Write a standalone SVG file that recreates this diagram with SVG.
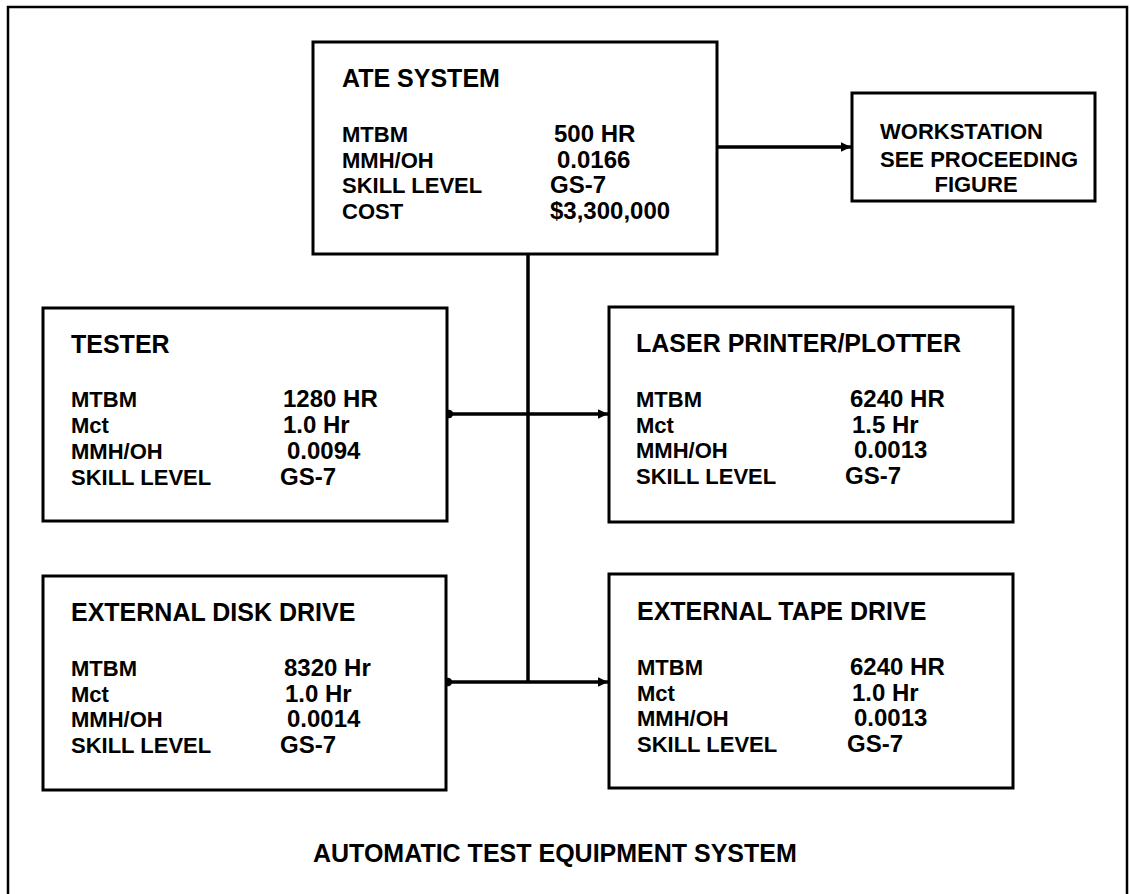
<svg xmlns="http://www.w3.org/2000/svg" width="1130" height="894" viewBox="0 0 1130 894">
<style>
.box{fill:#fff;stroke:#000;stroke-width:3}
.t{font-family:"Liberation Sans",Arial,sans-serif;font-weight:bold;font-size:25px;fill:#000}
.d{font-family:"Liberation Sans",Arial,sans-serif;font-weight:bold;font-size:22px;fill:#000}
.v{font-family:"Liberation Sans",Arial,sans-serif;font-weight:bold;font-size:24px;fill:#000}
.cap{font-family:"Liberation Sans",Arial,sans-serif;font-weight:bold;font-size:25px;fill:#000}
.c{fill:none;stroke:#000;stroke-width:3.5}
</style>
<defs>
<marker id="dot" markerWidth="4" markerHeight="4" refX="2" refY="2" markerUnits="strokeWidth"><circle cx="2" cy="2" r="1.2" fill="#000"/></marker>
<marker id="arr" markerWidth="4" markerHeight="4" refX="3" refY="2" orient="auto" markerUnits="strokeWidth"><path d="M0,0.6 L3,2 L0,3.4 Z" fill="#000"/></marker>
</defs>
<rect x="0" y="0" width="1130" height="894" fill="#fff"/>
<path d="M8,900 L8,7 L1127,7 L1127,900" fill="none" stroke="#000" stroke-width="2.5"/>

<g id="connectors">
<line class="c" x1="528" y1="254" x2="528" y2="682"/>
<line class="c" x1="717" y1="147" x2="851" y2="147" marker-end="url(#arr)"/>
<line class="c" x1="449" y1="414" x2="608" y2="414" marker-start="url(#dot)" marker-end="url(#arr)"/>
<line class="c" x1="448" y1="682" x2="608" y2="682" marker-start="url(#dot)" marker-end="url(#arr)"/>
</g>

<g id="ate">
<rect class="box" x="313" y="42" width="404" height="212"/>
<text class="t" x="342" y="87">ATE SYSTEM</text>
<text class="d" x="342" y="142">MTBM</text>
<text class="d" x="342" y="168">MMH/OH</text>
<text class="d" x="342" y="193">SKILL LEVEL</text>
<text class="d" x="342" y="219">COST</text>
<text class="v" x="554" y="142">500 HR</text>
<text class="v" x="557" y="168">0.0166</text>
<text class="v" x="550" y="193">GS-7</text>
<text class="v" x="550" y="219">$3,300,000</text>
</g>

<g id="workstation">
<rect class="box" x="852" y="93" width="243" height="108"/>
<text class="d" x="880" y="139">WORKSTATION</text>
<text class="d" x="880" y="167">SEE PROCEEDING</text>
<text class="d" x="976" y="192" text-anchor="middle">FIGURE</text>
</g>

<g id="tester">
<rect class="box" x="43" y="308" width="404" height="213"/>
<text class="t" x="71" y="353">TESTER</text>
<text class="d" x="71" y="407">MTBM</text>
<text class="d" x="71" y="433">Mct</text>
<text class="d" x="71" y="459">MMH/OH</text>
<text class="d" x="71" y="485">SKILL LEVEL</text>
<text class="v" x="283" y="407">1280 HR</text>
<text class="v" x="283" y="433">1.0 Hr</text>
<text class="v" x="287" y="459">0.0094</text>
<text class="v" x="280" y="485">GS-7</text>
</g>

<g id="laser">
<rect class="box" x="609" y="307" width="404" height="215"/>
<text class="t" x="636" y="352">LASER PRINTER/PLOTTER</text>
<text class="d" x="636" y="407">MTBM</text>
<text class="d" x="636" y="433">Mct</text>
<text class="d" x="636" y="458">MMH/OH</text>
<text class="d" x="636" y="484">SKILL LEVEL</text>
<text class="v" x="850" y="407">6240 HR</text>
<text class="v" x="852" y="433">1.5 Hr</text>
<text class="v" x="854" y="458">0.0013</text>
<text class="v" x="845" y="484">GS-7</text>
</g>

<g id="disk">
<rect class="box" x="43" y="576" width="403" height="214"/>
<text class="t" x="71" y="621">EXTERNAL DISK DRIVE</text>
<text class="d" x="71" y="676">MTBM</text>
<text class="d" x="71" y="702">Mct</text>
<text class="d" x="71" y="727">MMH/OH</text>
<text class="d" x="71" y="753">SKILL LEVEL</text>
<text class="v" x="284" y="676">8320 Hr</text>
<text class="v" x="285" y="702">1.0 Hr</text>
<text class="v" x="287" y="727">0.0014</text>
<text class="v" x="280" y="753">GS-7</text>
</g>

<g id="tape">
<rect class="box" x="609" y="574" width="404" height="214"/>
<text class="t" x="637" y="620">EXTERNAL TAPE DRIVE</text>
<text class="d" x="637" y="675">MTBM</text>
<text class="d" x="637" y="701">Mct</text>
<text class="d" x="637" y="726">MMH/OH</text>
<text class="d" x="637" y="752">SKILL LEVEL</text>
<text class="v" x="850" y="675">6240 HR</text>
<text class="v" x="852" y="701">1.0 Hr</text>
<text class="v" x="854" y="726">0.0013</text>
<text class="v" x="847" y="752">GS-7</text>
</g>

<g id="caption">
<text class="cap" x="313" y="862">AUTOMATIC TEST EQUIPMENT SYSTEM</text>
</g>
</svg>
